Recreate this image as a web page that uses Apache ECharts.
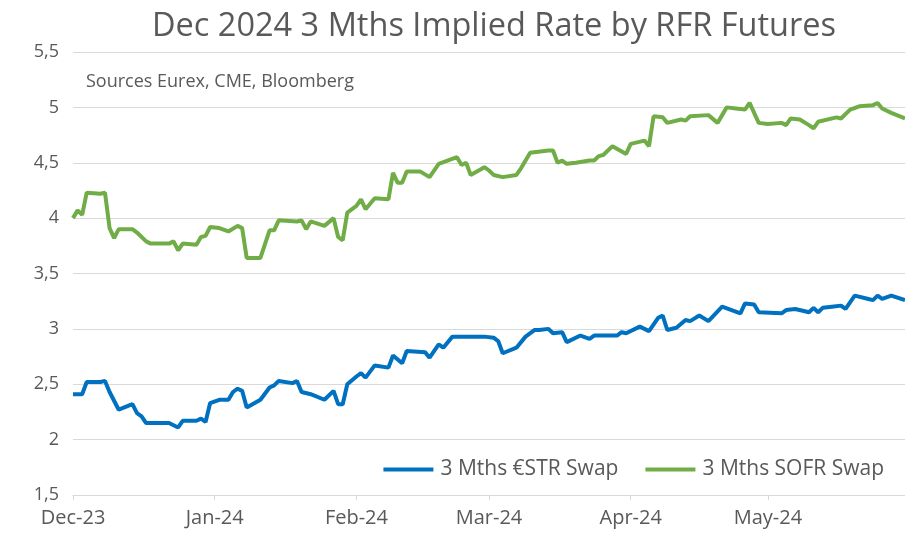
<!DOCTYPE html>
<html>
<head>
<meta charset="utf-8">
<script src="https://cdn.jsdelivr.net/npm/echarts@6/dist/echarts.min.js"></script>
<style>
  html, body { margin: 0; padding: 0; background: #fff; }
  #main { width: 905px; height: 537px; }
</style>
</head>
<body>
<div id="main"></div>
<script>
// month labels shown on the x axis
var monthLabels = {'12': 'Dec-23', '01': 'Jan-24', '02': 'Feb-24', '03': 'Mar-24', '04': 'Apr-24', '05': 'May-24'};

// y axis ticks
var yTicks = [1.5, 2, 2.5, 3, 3.5, 4, 4.5, 5, 5.5];

// 3 Mths €STR Swap (dates + values)
var estrDates = ['2023-12-01','2023-12-03','2023-12-04','2023-12-07','2023-12-08','2023-12-09','2023-12-11','2023-12-14','2023-12-15','2023-12-16',
  '2023-12-17','2023-12-22','2023-12-23','2023-12-24','2023-12-25','2023-12-28','2023-12-29','2023-12-30','2023-12-31','2024-01-02',
  '2024-01-04','2024-01-05','2024-01-06','2024-01-07','2024-01-08','2024-01-11','2024-01-13','2024-01-14','2024-01-15','2024-01-18',
  '2024-01-19','2024-01-20','2024-01-22','2024-01-25','2024-01-27','2024-01-28','2024-01-29','2024-01-30','2024-02-01','2024-02-02',
  '2024-02-03','2024-02-05','2024-02-08','2024-02-09','2024-02-11','2024-02-12','2024-02-16','2024-02-17','2024-02-19','2024-02-20',
  '2024-02-22','2024-02-29','2024-03-02','2024-03-03','2024-03-04','2024-03-07','2024-03-09','2024-03-11','2024-03-12','2024-03-14',
  '2024-03-15','2024-03-17','2024-03-18','2024-03-21','2024-03-23','2024-03-24','2024-03-29','2024-03-30','2024-03-31','2024-04-03',
  '2024-04-05','2024-04-07','2024-04-08','2024-04-09','2024-04-11','2024-04-13','2024-04-14','2024-04-16','2024-04-18','2024-04-21',
  '2024-04-25','2024-04-26','2024-04-28','2024-04-29','2024-05-04','2024-05-05','2024-05-07','2024-05-10','2024-05-11','2024-05-12',
  '2024-05-13','2024-05-15','2024-05-17','2024-05-18','2024-05-20','2024-05-23','2024-05-24','2024-05-25','2024-05-26','2024-05-28',
  '2024-05-31'];
var estrValues = [2.41,2.41,2.52,2.52,2.53,2.43,2.27,2.32,2.24,2.21,
  2.15,2.15,2.13,2.11,2.17,2.17,2.19,2.16,2.33,2.36,
  2.36,2.43,2.46,2.44,2.29,2.36,2.47,2.49,2.53,2.51,
  2.53,2.43,2.41,2.36,2.44,2.32,2.32,2.50,2.57,2.60,
  2.56,2.67,2.65,2.76,2.69,2.80,2.79,2.74,2.86,2.83,
  2.93,2.93,2.92,2.89,2.78,2.83,2.93,2.99,2.99,3.00,
  2.96,2.97,2.88,2.94,2.91,2.94,2.94,2.97,2.96,3.02,
  2.98,3.10,3.12,2.99,3.01,3.08,3.07,3.12,3.07,3.20,
  3.14,3.23,3.22,3.15,3.14,3.17,3.18,3.15,3.19,3.15,
  3.19,3.20,3.21,3.18,3.30,3.27,3.26,3.30,3.27,3.30,
  3.26];

// 3 Mths SOFR Swap
var sofrDates = ['2023-12-01','2023-12-02','2023-12-03','2023-12-04','2023-12-07','2023-12-08','2023-12-09','2023-12-10','2023-12-11','2023-12-14',
  '2023-12-15','2023-12-17','2023-12-18','2023-12-22','2023-12-23','2023-12-24','2023-12-25','2023-12-28','2023-12-29','2023-12-30',
  '2023-12-31','2024-01-02','2024-01-04','2024-01-06','2024-01-07','2024-01-08','2024-01-11','2024-01-13','2024-01-14','2024-01-15',
  '2024-01-19','2024-01-20','2024-01-21','2024-01-22','2024-01-25','2024-01-27','2024-01-28','2024-01-29','2024-01-30','2024-02-01',
  '2024-02-02','2024-02-03','2024-02-05','2024-02-08','2024-02-09','2024-02-10','2024-02-11','2024-02-12','2024-02-15','2024-02-17',
  '2024-02-19','2024-02-23','2024-02-24','2024-02-25','2024-02-26','2024-02-29','2024-03-01','2024-03-02','2024-03-04','2024-03-07',
  '2024-03-08','2024-03-10','2024-03-14','2024-03-15','2024-03-16','2024-03-17','2024-03-18','2024-03-20','2024-03-23','2024-03-24',
  '2024-03-25','2024-03-26','2024-03-28','2024-03-31','2024-04-01','2024-04-04','2024-04-05','2024-04-06','2024-04-08','2024-04-09',
  '2024-04-12','2024-04-13','2024-04-14','2024-04-18','2024-04-20','2024-04-22','2024-04-24','2024-04-26','2024-04-27','2024-04-29',
  '2024-05-01','2024-05-04','2024-05-05','2024-05-06','2024-05-08','2024-05-10','2024-05-11','2024-05-12','2024-05-16','2024-05-17',
  '2024-05-19','2024-05-21','2024-05-24','2024-05-25','2024-05-26','2024-05-28','2024-05-31'];
var sofrValues = [4.00,4.07,4.03,4.23,4.22,4.23,3.91,3.82,3.90,3.90,
  3.87,3.79,3.77,3.77,3.79,3.71,3.77,3.76,3.83,3.84,
  3.92,3.91,3.88,3.93,3.91,3.64,3.64,3.89,3.89,3.98,
  3.97,3.98,3.90,3.97,3.93,4.00,3.83,3.80,4.05,4.11,
  4.17,4.08,4.18,4.17,4.41,4.32,4.32,4.42,4.42,4.37,
  4.49,4.55,4.48,4.50,4.39,4.46,4.43,4.39,4.37,4.39,
  4.45,4.59,4.61,4.61,4.50,4.52,4.49,4.50,4.52,4.52,
  4.56,4.57,4.65,4.58,4.67,4.70,4.65,4.92,4.91,4.86,
  4.89,4.88,4.92,4.93,4.86,5.00,4.99,4.98,5.04,4.86,
  4.85,4.86,4.84,4.90,4.89,4.84,4.81,4.87,4.91,4.90,
  4.98,5.01,5.02,5.04,4.99,4.95,4.90];

// every calendar day from Dec 1 to May 31 as axis categories
var days = [];
for (var t = Date.UTC(2023, 11, 1); t <= Date.UTC(2024, 4, 31); t += 86400000) {
  days.push(new Date(t).toISOString().slice(0, 10));
}

function pairs(dates, vals) {
  return dates.map(function (d, i) { return [d, vals[i]]; });
}

var isMonthStart = function (idx, val) { return val.slice(8) === '01'; };

var myChart = echarts.init(document.getElementById('main'));
var txt = '#595959';
var option = {
  animation: false,
  textStyle: { fontFamily: 'Open Sans' },
  title: [{
    text: 'Dec 2024 3 Mths Implied Rate by RFR Futures',
    left: 147,
    top: 5,
    textStyle: { fontSize: 32.5, fontWeight: 'normal', color: txt, fontFamily: 'Open Sans' }
  }, {
    text: 'Sources Eurex, CME, Bloomberg',
    left: 81,
    top: 68,
    textStyle: { fontSize: 18, fontWeight: 'normal', color: txt, fontFamily: 'Open Sans' }
  }],
  legend: {
    right: 16,
    top: 454,
    icon: 'rect',
    itemWidth: 50,
    itemHeight: 4,
    itemGap: 27,
    textStyle: { fontSize: 21, color: txt, padding: [0, 0, 0, 2] },
    data: ['3 Mths €STR Swap', '3 Mths SOFR Swap']
  },
  grid: { left: 73, right: 0, top: 52, bottom: 42 },
  xAxis: {
    type: 'category',
    data: days,
    boundaryGap: false,
    axisLine: { lineStyle: { color: '#d9d9d9', width: 1 } },
    axisTick: { show: true, interval: isMonthStart, length: 5, lineStyle: { color: '#d9d9d9' } },
    axisLabel: {
      interval: isMonthStart,
      color: txt,
      fontSize: 20,
      margin: 13,
      formatter: function (v) { return monthLabels[v.slice(5, 7)]; }
    },
    splitLine: { show: false }
  },
  yAxis: {
    type: 'value',
    min: yTicks[0],
    max: yTicks[yTicks.length - 1],
    interval: 0.5,
    axisLine: { show: false },
    axisTick: { show: false },
    axisLabel: {
      color: txt,
      fontSize: 18,
      margin: 14,
      formatter: function (v) { return String(v).replace('.', ','); }
    },
    splitLine: { lineStyle: { color: '#d9d9d9', width: 1 } }
  },
  series: [{
    name: '3 Mths €STR Swap',
    type: 'line',
    data: pairs(estrDates, estrValues),
    showSymbol: false,
    lineStyle: { color: '#0070C0', width: 4 },
    itemStyle: { color: '#0070C0' }
  }, {
    name: '3 Mths SOFR Swap',
    type: 'line',
    data: pairs(sofrDates, sofrValues),
    showSymbol: false,
    lineStyle: { color: '#70AD47', width: 4 },
    itemStyle: { color: '#70AD47' }
  }]
};
myChart.setOption(option);

window.onresize = function () {
  myChart.resize();
};
</script>
</body>
</html>
